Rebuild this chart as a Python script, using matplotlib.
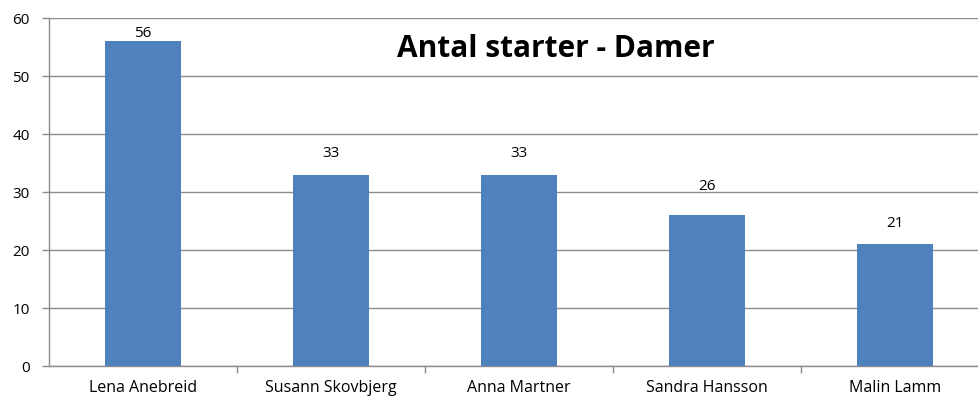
import matplotlib
matplotlib.use("Agg")
import matplotlib.pyplot as plt
import numpy as np

categories = ["Lena Anebreid", "Susann Skovbjerg", "Anna Martner", "Sandra Hansson", "Malin Lamm"]
values = [56, 33, 33, 26, 21]
yticks = [0, 10, 20, 30, 40, 50, 60]
title = "Antal starter - Damer"
label_offsets_px = [0, 14, 14, 21, 13]

plt.rcParams['font.family'] = ['Open Sans', 'DejaVu Sans']

fig = plt.figure(figsize=(9.79, 4.08), dpi=100)
ax = fig.add_axes([49/979, 42/408, 940/979, 348/408])
x = np.arange(len(categories))
bars = ax.bar(x, values, width=0.4, color="#4F81BD", zorder=3)
for xi, v, off in zip(x, values, label_offsets_px):
    ax.annotate(str(v), (xi, v), xytext=(0, off * 0.72), textcoords="offset points",
                ha="center", va="bottom", fontsize=11, color="#000000")
ax.set_xlim(-0.5, len(categories) - 0.5)
ax.set_ylim(0, 60)
ax.set_yticks(yticks)
ax.set_yticklabels([str(t) for t in yticks], fontsize=11)
ax.yaxis.grid(True, color="#8c8c8c", linewidth=1, zorder=0)
ax.set_xticks(x)
ax.set_xticklabels(categories, fontsize=11.5)
ax.tick_params(axis='x', length=0, pad=10)
ax.set_xticks(np.arange(0.5, len(categories) - 0.5 + 1, 1.0), minor=True)
ax.tick_params(axis='x', which='minor', length=5, color="#8c8c8c", width=1)
ax.tick_params(axis='y', length=5, color="#8c8c8c", width=1, pad=9)
for s in ['top', 'right']:
    ax.spines[s].set_visible(False)
for s in ['left', 'bottom']:
    ax.spines[s].set_color("#8c8c8c")
    ax.spines[s].set_linewidth(1)
ax.text(0.5395, 0.912, title, transform=ax.transAxes, ha="center", va="center",
        fontsize=21.5, fontweight="bold", color="#000000")
fig.savefig("out.png", dpi=100)
